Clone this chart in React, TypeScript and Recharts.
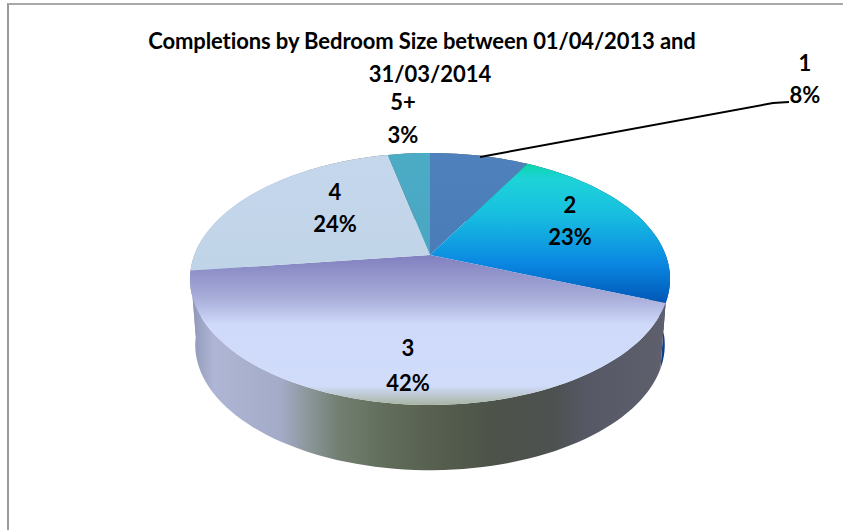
import React from "react";
import { PieChart, Pie } from "recharts";

const categories = ["1", "2", "3", "4", "5+"];
const shares = [8, 23, 42, 23.6, 3.4];
const titleLines = ["Completions by Bedroom Size between 01/04/2013 and", "31/03/2014"];

const rows = categories.map((name, i) => ({
  name,
  value: shares[i],
  topFill: `url(#top${i})`,
  wallFill: i === 1 ? "#0a3f8c" : "url(#wall3)",
}));

const FONT = "Lato, Carlito, sans-serif";
const TILT = 0.19;
const labelSpots = [
  { x: 805, y: 71, gap: 32 },
  { x: 570, y: 213, gap: 32 },
  { x: 408, y: 356, gap: 35 },
  { x: 335, y: 200, gap: 32 },
  { x: 403, y: 110, gap: 33 },
];

function project(cx: number, cy: number, R: number, deg: number, t = 1) {
  const rad = (deg * Math.PI) / 180;
  const X = Math.cos(rad) * t;
  const Y = Math.sin(rad) * t;
  const d = 1 + TILT * Y;
  return { x: cx + (0.982 * R * X) / d, y: cy - (0.506 * R * Y) / d };
}

function arcPoints(p: any) {
  const n = Math.max(2, Math.ceil(Math.abs(p.endAngle - p.startAngle) / 2));
  const pts: { x: number; y: number }[] = [];
  for (let i = 0; i <= n; i++) {
    const a = p.startAngle + ((p.endAngle - p.startAngle) * i) / n;
    pts.push(project(p.cx, p.cy, p.outerRadius, a));
  }
  return pts;
}

const toD = (pts: { x: number; y: number }[]) =>
  pts.map((q, i) => `${i ? "L" : "M"}${q.x.toFixed(2)} ${q.y.toFixed(2)}`).join(" ");

function TopSlice(p: any) {
  const pts = arcPoints(p);
  const d = `M${p.cx} ${p.cy} ${toD(pts).replace(/^M/, "L")} Z`;
  return <path d={d} fill={p.payload?.topFill ?? p.topFill} stroke="none" />;
}

function WallSlice(p: any) {
  const top = arcPoints(p);
  const bottom = top
    .map((q) => ({
      x: p.cx + (q.x - p.cx) * 0.978,
      y: p.cy + (q.y - p.cy) * 0.995 + 66,
    }))
    .reverse();
  const d = `${toD(top)} ${toD(bottom).replace(/^M/, "L")} Z`;
  return <path d={d} fill={p.payload?.wallFill ?? p.wallFill} stroke="none" />;
}

function SliceLabel(p: any) {
  const s = labelSpots[p.index];
  return (
    <text
      x={s.x}
      y={s.y}
      textAnchor="middle"
      fontFamily={FONT}
      fontWeight={700}
      fontSize={22}
      fill="#000"
    >
      <tspan x={s.x}>{p.name}</tspan>
      <tspan x={s.x} dy={s.gap}>{`${Math.round(p.value)}%`}</tspan>
    </text>
  );
}

function Leader(p: any) {
  if (p.index !== 0) return <g />;
  return <polyline points="480,157 773,103 789,102" fill="none" stroke="#000" strokeWidth={2} />;
}

export default function App() {
  return (
    <div style={{ position: "absolute", left: 0, top: 0, width: 843, height: 530, background: "#fff", overflow: "hidden" }}>
      <div
        style={{
          position: "absolute",
          left: 7,
          top: 3,
          width: 840,
          height: 530,
          borderLeft: "2px solid #9a9a9a",
          borderTop: "2px solid #a8a8a8",
        }}
      />
      <div style={{ position: "absolute", left: 0, top: 0 }}>
        <PieChart width={843} height={530} margin={{ top: 0, right: 0, bottom: 0, left: 0 }}>
          <defs>
            <linearGradient id="top0" x1="0" y1="0" x2="0" y2="1">
              <stop offset="0" stopColor="#4f81bd" />
              <stop offset="1" stopColor="#4a7db8" />
            </linearGradient>
            <linearGradient id="top1" gradientUnits="userSpaceOnUse" x1="0" y1="165" x2="0" y2="305">
              <stop offset="0" stopColor="#0dd5ae" />
              <stop offset="0.1" stopColor="#1dd3d8" />
              <stop offset="0.35" stopColor="#18bfe0" />
              <stop offset="0.7" stopColor="#0a88e2" />
              <stop offset="1" stopColor="#0054b4" />
            </linearGradient>
            <linearGradient id="top2" gradientUnits="userSpaceOnUse" x1="0" y1="255" x2="0" y2="407">
              <stop offset="0" stopColor="#8080bf" />
              <stop offset="0.28" stopColor="#a8add9" />
              <stop offset="0.46" stopColor="#cfdafa" />
              <stop offset="0.86" stopColor="#d0dcfa" />
              <stop offset="1" stopColor="#a4b09a" />
            </linearGradient>
            <linearGradient id="top3" x1="0" y1="0" x2="0" y2="1">
              <stop offset="0" stopColor="#c5d7ec" />
              <stop offset="1" stopColor="#c0d4e8" />
            </linearGradient>
            <linearGradient id="top4" x1="0" y1="0" x2="0" y2="1">
              <stop offset="0" stopColor="#4bacc6" />
              <stop offset="1" stopColor="#4aa6c2" />
            </linearGradient>
            <linearGradient id="wall3" gradientUnits="userSpaceOnUse" x1="190" y1="0" x2="668" y2="0">
              <stop offset="0" stopColor="#8d95b5" />
              <stop offset="0.05" stopColor="#afb6d5" />
              <stop offset="0.19" stopColor="#a3abc8" />
              <stop offset="0.25" stopColor="#8b9698" />
              <stop offset="0.31" stopColor="#727f72" />
              <stop offset="0.41" stopColor="#616d5a" />
              <stop offset="0.53" stopColor="#555d4e" />
              <stop offset="0.63" stopColor="#4d5349" />
              <stop offset="0.76" stopColor="#4d5150" />
              <stop offset="0.83" stopColor="#565866" />
              <stop offset="1" stopColor="#5f606c" />
            </linearGradient>
          </defs>
          <text x={422} y={49} textAnchor="middle" fontFamily={FONT} fontWeight={700} fontSize={22} letterSpacing={-0.1} fill="#000">
            {titleLines[0]}
          </text>
          <text x={430} y={82} textAnchor="middle" fontFamily={FONT} fontWeight={700} fontSize={22} fill="#000">
            {titleLines[1]}
          </text>
          <Pie
            data={rows}
            dataKey="value"
            nameKey="name"
            cx={430}
            cy={255}
            outerRadius={240}
            startAngle={90}
            endAngle={-270}
            stroke="none"
            isAnimationActive={false}
            shape={WallSlice}
            label={false}
            labelLine={false}
          />
          <Pie
            data={rows}
            dataKey="value"
            nameKey="name"
            cx={430}
            cy={255}
            outerRadius={240}
            startAngle={90}
            endAngle={-270}
            stroke="none"
            isAnimationActive={false}
            shape={TopSlice}
            label={SliceLabel}
            labelLine={Leader}
          />
        </PieChart>
      </div>
    </div>
  );
}
